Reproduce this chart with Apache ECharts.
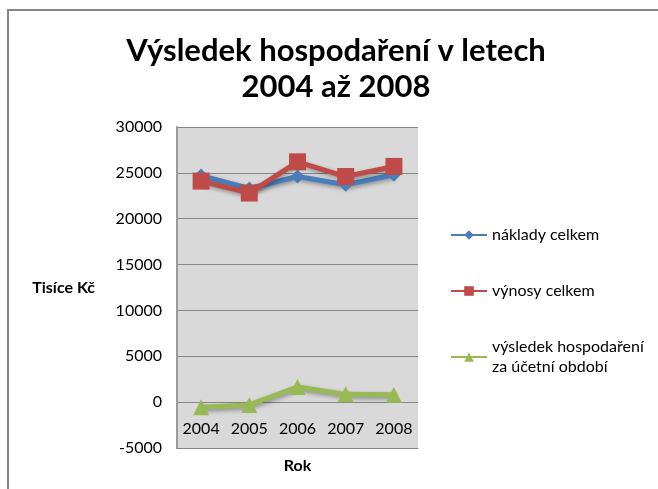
<!DOCTYPE html>
<html>
<head>
<meta charset="utf-8">
<script src="https://cdn.jsdelivr.net/npm/echarts@6/dist/echarts.min.js"></script>
<style>html,body{margin:0;padding:0;background:#fff}#c{width:658px;height:489px}</style>
</head>
<body>
<div id="c"></div>
<script>
const categories = ['2004', '2005', '2006', '2007', '2008'];
const naklady = [24700, 23300, 24600, 23700, 24800];
const vynosy = [24100, 22800, 26200, 24600, 25700];
const vysledek = [-550, -300, 1650, 850, 800];
const yTicks = { min: -5000, max: 30000, interval: 5000 };
const seriesNames = ['náklady celkem', 'výnosy celkem', 'výsledek hospodaření\nza účetní období'];

const FONT = 'Lato, "Open Sans", sans-serif';
const chart = echarts.init(document.getElementById('c'));
const shadow = { shadowColor: 'rgba(0,0,0,0.35)', shadowBlur: 4, shadowOffsetX: 1, shadowOffsetY: 2 };
chart.setOption({
  animation: false,
  backgroundColor: '#fff',
  textStyle: { fontFamily: FONT },
  title: {
    text: 'Výsledek hospodaření v letech\n2004 až 2008',
    left: 331, top: 28, textAlign: 'center',
    textStyle: { fontFamily: FONT, fontSize: 31, fontWeight: 'bold', color: '#000', lineHeight: 36 }
  },
  graphic: [
    { type: 'line', shape: { x1: 7, y1: 10, x2: 658, y2: 10 }, style: { stroke: '#868686', lineWidth: 2 } },
    { type: 'line', shape: { x1: 8, y1: 10, x2: 8, y2: 489 }, style: { stroke: '#868686', lineWidth: 2 } }
  ],
  legend: {
    orient: 'vertical', left: 445, top: 220, itemGap: 36,
    itemWidth: 36, itemHeight: 12, itemGap: 36,
    textStyle: { fontFamily: FONT, fontSize: 16, color: '#000', lineHeight: 20 },
    data: seriesNames
  },
  grid: { left: 177, top: 127, width: 241, height: 321, show: true, backgroundColor: '#d9d9d9', borderWidth: 0, outerBoundsMode: 'none', containLabel: false },
  xAxis: {
    type: 'category', data: categories, boundaryGap: true,
    name: 'Rok', nameLocation: 'middle', nameGap: 10, nameMoveOverlap: false,
    nameTextStyle: { fontFamily: FONT, fontSize: 16, fontWeight: 'bold', color: '#000', verticalAlign: 'top' },
    axisLine: { onZero: false, lineStyle: { color: '#868686', width: 1 } },
    axisTick: { show: false },
    axisLabel: { interval: 0, hideOverlap: false, margin: -27, fontFamily: FONT, fontSize: 16, color: '#000' }
  },
  yAxis: {
    type: 'value', min: yTicks.min, max: yTicks.max, interval: yTicks.interval,
    name: 'Tisíce Kč', nameLocation: 'middle', nameRotate: 0, nameGap: 82, nameMoveOverlap: false,
    nameTextStyle: { fontFamily: FONT, fontSize: 16, fontWeight: 'bold', color: '#000', align: 'right' },
    axisLine: { show: true, lineStyle: { color: '#9a9a9a', width: 2 } },
    axisTick: { show: false },
    splitLine: { lineStyle: { color: '#868686', width: 1 } },
    axisLabel: { margin: 15, fontFamily: FONT, fontSize: 16, color: '#000', formatter: v => String(v) }
  },
  series: [
    { name: seriesNames[0], type: 'line', data: naklady, symbol: 'diamond', symbolSize: 14,
      itemStyle: { color: '#4a7ebb' }, lineStyle: Object.assign({ width: 5, color: '#4a7ebb' }, shadow) },
    { name: seriesNames[1], type: 'line', data: vynosy, symbol: 'rect', symbolSize: 17,
      itemStyle: { color: '#be4b48' }, lineStyle: Object.assign({ width: 5, color: '#be4b48' }, shadow) },
    { name: seriesNames[2], type: 'line', data: vysledek, symbol: 'triangle', symbolSize: 16,
      itemStyle: { color: '#98b954' }, lineStyle: Object.assign({ width: 5, color: '#98b954' }, shadow) }
  ]
});
</script>
</body>
</html>
